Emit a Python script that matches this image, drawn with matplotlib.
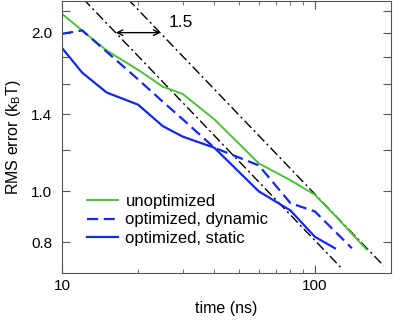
import matplotlib
matplotlib.use("Agg")
import matplotlib.pyplot as plt
import numpy as np

plt.rcParams['font.family'] = ['Liberation Sans', 'DejaVu Sans']

# data
t_unopt = [10, 15, 20, 25, 30, 40, 60, 80, 100, 120, 160]
rms_unopt = [2.17, 1.85, 1.70, 1.58, 1.53, 1.37, 1.13, 1.05, 0.985, 0.90, 0.776]

t_dyn = [10, 12, 15, 20, 25, 30, 40, 60, 80, 100, 140]
rms_dyn = [1.99, 2.02, 1.84, 1.63, 1.48, 1.37, 1.21, 1.12, 0.95, 0.916, 0.78]

t_stat = [10, 12, 15, 20, 25, 30, 40, 60, 80, 100, 120]
rms_stat = [1.87, 1.68, 1.54, 1.46, 1.33, 1.27, 1.21, 1.00, 0.92, 0.82, 0.78]

# t^(-1/2) guide lines, shifted by a factor 1.5 in time
guide_t1 = [10, 128]
guide_t2 = [10, 187]
guide_c1 = 8.07
guide_c2 = 9.88
arrow_t = [16.3, 24.5]
arrow_y = 2.0

yticks = [0.8, 1.0, 1.2, 1.4, 1.6, 1.8, 2.0, 2.2]
ylabels_shown = [0.8, 1.0, 1.4, 2.0]

fig = plt.figure(figsize=(3.93, 3.27), dpi=100)
ax = fig.add_axes([0.158, 0.165, 0.837, 0.833])

ax.set_xscale('log')
ax.set_yscale('log')

for tt, c in [(guide_t1, guide_c1), (guide_t2, guide_c2)]:
    tt = np.array(tt, dtype=float)
    ax.plot(tt, c / np.sqrt(tt), color='black', lw=1.0,
            linestyle=(0, (7, 2.5, 1.5, 2.5)))

ax.plot(t_unopt, rms_unopt, color='#4cc236', lw=1.4, label='unoptimized')
ax.plot(t_dyn, rms_dyn, color='#1428e6', lw=1.6, dashes=(5, 2.5),
        label='optimized, dynamic')
ax.plot(t_stat, rms_stat, color='#1428e6', lw=1.6, label='optimized, static')

ax.annotate('', xy=(arrow_t[0], arrow_y), xytext=(arrow_t[1], arrow_y),
            arrowprops=dict(arrowstyle='<->', color='black', lw=1.0,
                            shrinkA=0, shrinkB=0))
ax.text(26.3, 2.09, '1.5', fontsize=12.5, va='center', ha='left')

ax.set_xlim(10, 200)
ax.set_ylim(0.70, 2.30)

ax.set_yticks(yticks)
ax.set_yticklabels(['%.1f' % v if v in ylabels_shown else '' for v in yticks])
ax.yaxis.set_minor_locator(matplotlib.ticker.NullLocator())
ax.set_xticks([10, 100])
ax.set_xticklabels(['10', '100'])

ax.tick_params(which='both', direction='in', top=True, right=True,
               labelsize=11, color='#555555')
ax.tick_params(axis='y', pad=7)
ax.tick_params(axis='x', pad=4)
ax.tick_params(which='major', length=6)
ax.tick_params(which='minor', length=3)
for s in ax.spines.values():
    s.set_color('#555555')

ax.set_xlabel('time (ns)', fontsize=11.5, labelpad=6)
ax.set_ylabel(r'RMS error (k$_\mathregular{B}$T)', fontsize=11.5, labelpad=6)

ax.legend(loc='center left', bbox_to_anchor=(0.076, 0.195), frameon=False,
          fontsize=12, handlelength=1.85, handletextpad=0.45, labelspacing=0.2,
          borderpad=0, borderaxespad=0)

fig.savefig('out.png', dpi=100)
